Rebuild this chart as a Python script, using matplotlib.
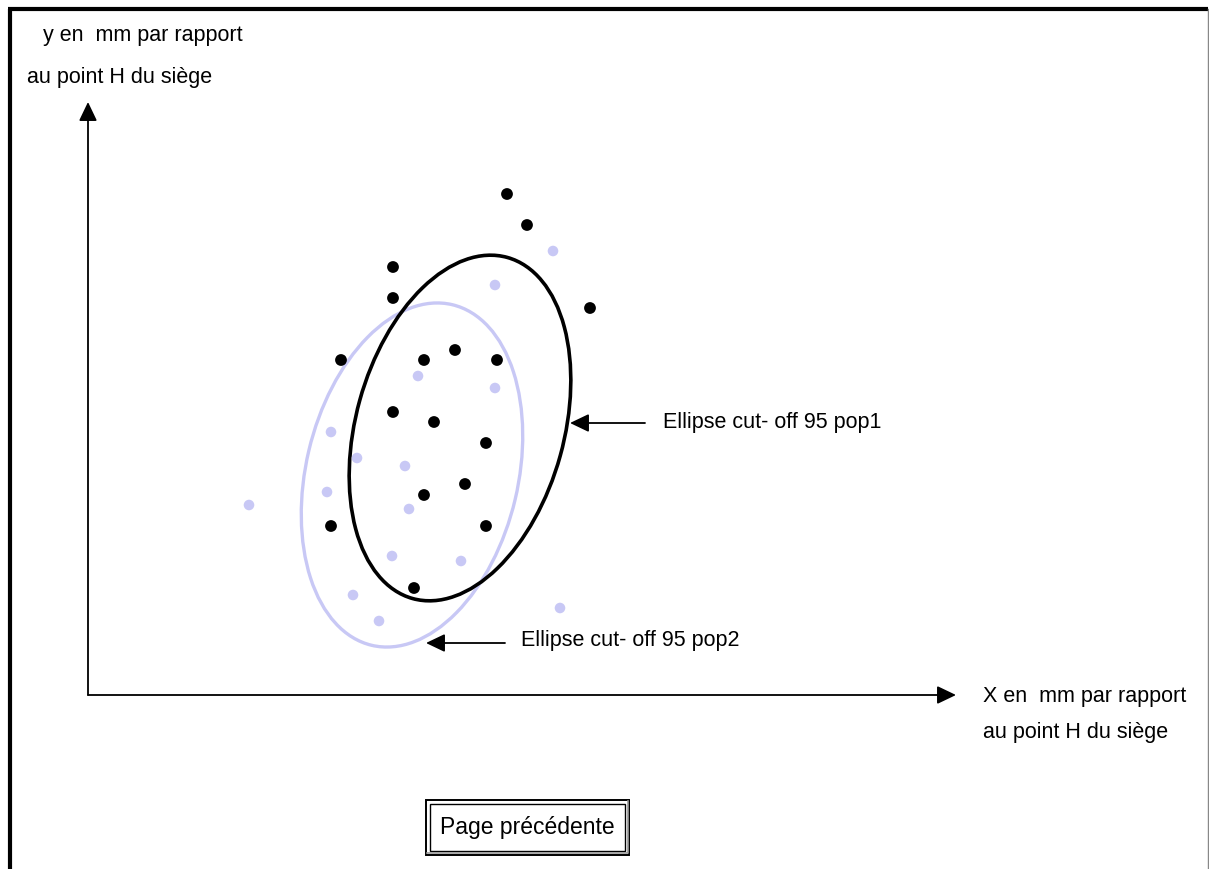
import matplotlib
matplotlib.use("Agg")
import matplotlib.pyplot as plt
from matplotlib.patches import Ellipse, Rectangle

plt.rcParams["font.family"] = ["Liberation Sans", "DejaVu Sans"]

# points, x / y relative to point H (origin of the sketch)
pop1_x = [419, 439, 305, 305, 502, 253, 336, 367, 409, 305, 346, 398, 377, 336, 243, 398, 326]
pop1_y = [501, 470, 428, 397, 387, 335, 335, 345, 335, 283, 273, 252, 211, 200, 169, 169, 107]

pop2_x = [465, 407, 330, 407, 243, 269, 317, 239, 161, 321, 304, 373, 265, 291, 472]
pop2_y = [444, 410, 319, 307, 263, 237, 229, 203, 190, 186, 139, 134, 100, 74, 87]

# ellipses cut-off 95 : centre x, centre y, width, height, angle
ell_pop1 = [372, 267, 208, 354, -15.5]
ell_pop2 = [324, 220, 212, 350, -13.3]

black = "black"
lilac = "#c8c8f5"

fig = plt.figure(figsize=(12.09, 8.70), dpi=100)
ax = fig.add_axes([0, 0, 1, 1])
ax.set_xlim(-88, 1121)
ax.set_ylim(-174, 696)
ax.axis("off")

# frame of the page
ax.plot([-78, -78], [-174, 686], color="black", lw=3, solid_capstyle="butt")
ax.plot([-80, 1120], [686, 686], color="black", lw=3, solid_capstyle="butt")
ax.plot([1120, 1120], [686, -174], color="#888888", lw=1)

# axes with arrows
arrow = dict(arrowstyle="-|>,head_length=1.15,head_width=0.55", mutation_scale=10,
             lw=1.3, color="black", shrinkA=0, shrinkB=0)
ax.annotate("", xy=(868, 0), xytext=(0, 0), arrowprops=arrow)
ax.annotate("", xy=(0, 593), xytext=(0, 0), arrowprops=arrow)

fs = 15.5
ax.text(-45, 661, "y en  mm par rapport", fontsize=fs, ha="left", va="center")
ax.text(-61, 618, "au point H du siège", fontsize=fs, ha="left", va="center")
ax.text(895, -1, "X en  mm par rapport", fontsize=fs, ha="left", va="center")
ax.text(895, -37, "au point H du siège", fontsize=fs, ha="left", va="center")

# ellipses
e2 = Ellipse((ell_pop2[0], ell_pop2[1]), ell_pop2[2], ell_pop2[3], angle=ell_pop2[4],
             fill=False, edgecolor=lilac, lw=2.4)
ax.add_patch(e2)
e1 = Ellipse((ell_pop1[0], ell_pop1[1]), ell_pop1[2], ell_pop1[3], angle=ell_pop1[4],
             fill=False, edgecolor=black, lw=2.6)
ax.add_patch(e1)

# points
ax.scatter(pop2_x, pop2_y, s=58, color=lilac, edgecolors="none", zorder=3)
ax.scatter(pop1_x, pop1_y, s=72, color=black, edgecolors="none", zorder=3)

# labels of the ellipses
ax.annotate("", xy=(482, 272), xytext=(557, 272), arrowprops=arrow)
ax.text(575, 273, "Ellipse cut- off 95 pop1", fontsize=fs, ha="left", va="center")
ax.annotate("", xy=(338, 52), xytext=(417, 52), arrowprops=arrow)
ax.text(433, 55, "Ellipse cut- off 95 pop2", fontsize=fs, ha="left", va="center")

# button
ax.add_patch(Rectangle((338, -160), 203, 55, fill=False, edgecolor="black", lw=1.4))
ax.plot([339, 540, 540], [-158, -158, -106], color="#999999", lw=1.2)
ax.add_patch(Rectangle((342, -156), 195, 47, fill=False, edgecolor="black", lw=1.0))
ax.text(439, -132, "Page précédente", fontsize=16.5, ha="center", va="center")

fig.savefig("out.png", dpi=100)
